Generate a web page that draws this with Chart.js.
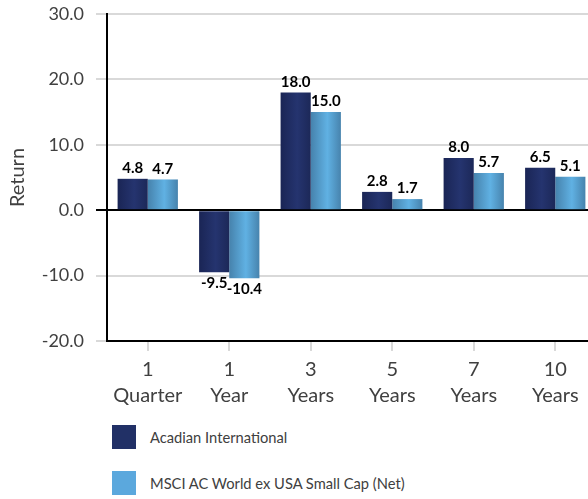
<!DOCTYPE html>
<html>
<head>
<meta charset="utf-8">
<script src="https://cdn.jsdelivr.net/npm/chart.js@4"></script>
<style>
  html, body { margin: 0; padding: 0; background: #fff; overflow: hidden; }
  #wrap { position: relative; width: 596px; height: 499px; }
  #legend { position: absolute; left: 112px; top: 425px; font-family: Lato, sans-serif; font-size: 14.7px; color: #404040; }
  .item { display: flex; align-items: center; height: 24px; margin-bottom: 22px; }
  .box { width: 24px; height: 24px; margin-right: 14px; }
</style>
</head>
<body>
<div id="wrap">
  <canvas id="myChart" width="596" height="412"></canvas>
  <div id="legend"></div>
</div>
<script>
// categories and values
const periods = [['1', 'Quarter'], ['1', 'Year'], ['3', 'Years'], ['5', 'Years'], ['7', 'Years'], ['10', 'Years']];
const acadian = [4.8, -9.5, 18.0, 2.8, 8.0, 6.5];
const msci = [4.7, -10.4, 15.0, 1.7, 5.7, 5.1];
const seriesNames = ['Acadian International', 'MSCI AC World ex USA Small Cap (Net)'];
const yMin = -20, yMax = 30, yStep = 10;

const solid = ['#213066', '#5ba8dd'];
const shades = [
  ['#1a2555', '#25346f', '#1c2858'],
  ['#4682ac', '#60b1e3', '#4783ad']
];
const catPct = 0.74;

// horizontal shading on each bar, worked out from the x scale
function barFill(c) {
  const xs = c.chart.scales.x;
  if (!xs || !xs.width) return solid[c.datasetIndex];
  const catW = xs.width / periods.length;
  const half = catW * catPct / 2;
  const left = xs.getPixelForValue(c.dataIndex) - half + c.datasetIndex * half;
  const g = c.chart.ctx.createLinearGradient(left, 0, left + half, 0);
  const s = shades[c.datasetIndex];
  g.addColorStop(0, s[0]);
  g.addColorStop(0.55, s[1]);
  g.addColorStop(1, s[2]);
  return g;
}

// the bold numbers above / below the bars
const valueLabels = {
  id: 'valueLabels',
  afterDatasetsDraw(chart) {
    const ctx = chart.ctx;
    ctx.save();
    ctx.font = 'bold 15px Lato, sans-serif';
    ctx.fillStyle = '#000';
    ctx.textAlign = 'center';
    chart.data.datasets.forEach((ds, i) => {
      chart.getDatasetMeta(i).data.forEach((bar, j) => {
        const v = ds.data[j];
        if (v >= 0) {
          ctx.textBaseline = 'bottom';
          ctx.fillText(v.toFixed(1), bar.x, bar.y - 3);
        } else {
          ctx.textBaseline = 'top';
          ctx.fillText(v.toFixed(1), bar.x, bar.y + 3);
        }
      });
    });
    ctx.restore();
  }
};

const ctx = document.getElementById('myChart');
const chart = new Chart(ctx, {
  type: 'bar',
  data: {
    labels: periods,
    datasets: [
      { label: seriesNames[0], data: acadian, backgroundColor: barFill, borderWidth: 0 },
      { label: seriesNames[1], data: msci, backgroundColor: barFill, borderWidth: 0 }
    ]
  },
  options: {
    responsive: false,
    animation: false,
    devicePixelRatio: 1,
    categoryPercentage: catPct,
    barPercentage: 1,
    layout: { padding: { top: 14, right: 0, left: 0, bottom: 0 } },
    plugins: { legend: { display: false }, tooltip: { enabled: false } },
    scales: {
      x: {
        grid: { drawOnChartArea: false, offset: false, color: '#d9d9d9', lineWidth: 2, tickLength: 10 },
        border: { color: '#000', width: 2 },
        ticks: { color: '#404040', font: { family: 'Lato', size: 20, lineHeight: 1.3 }, padding: 6, maxRotation: 0 },
        afterFit(s) { s.height = 71; }
      },
      y: {
        min: yMin,
        max: yMax,
        ticks: {
          stepSize: yStep,
          color: '#404040',
          font: { family: 'Lato', size: 18 },
          padding: 12,
          callback: v => v.toFixed(1)
        },
        grid: {
          color: c => c.tick && c.tick.value === 0 ? '#000' : '#d9d9d9',
          lineWidth: 2,
          tickLength: 11
        },
        border: { color: '#000', width: 2 },
        title: { display: true, text: 'Return', color: '#404040', font: { family: 'Lato', size: 20 }, padding: { top: 6, bottom: 0 } },
        afterFit(s) { s.width = 107; s.paddingTop = 0; s.paddingBottom = 0; }
      }
    }
  },
  plugins: [valueLabels]
});

// legend as a vertical list under the chart
const legend = document.getElementById('legend');
seriesNames.forEach((name, i) => {
  const row = document.createElement('div');
  row.className = 'item';
  row.innerHTML = '<div class="box" style="background:' + solid[i] + '"></div><span>' + name + '</span>';
  legend.appendChild(row);
});
</script>
</body>
</html>
